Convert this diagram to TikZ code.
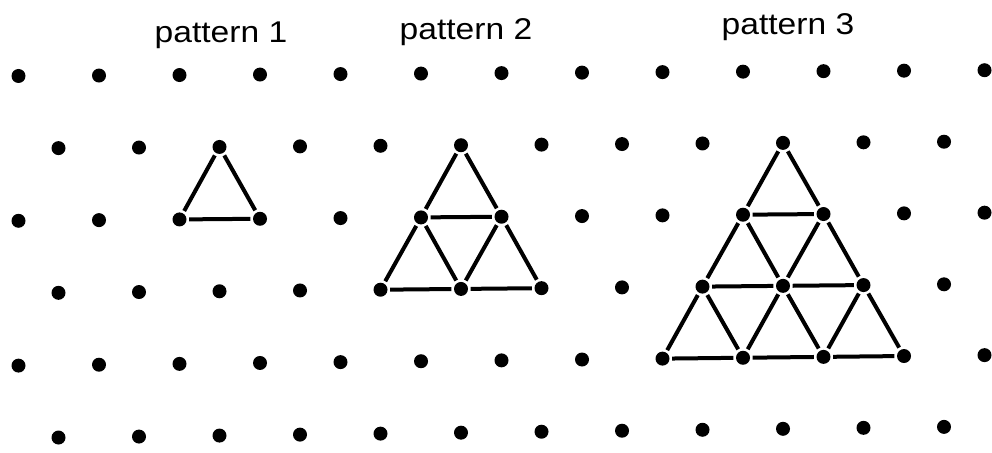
\documentclass[tikz,border=0pt]{standalone}
\usepackage{fontspec}
\setmainfont{Liberation Sans}
\begin{document}
\begin{tikzpicture}[x=1pt,y=-1pt,
  dot/.style={circle,fill=black,inner sep=0pt,minimum size=14pt},
  edge/.style={line width=4pt,black,shorten >=2.5pt,shorten <=2.5pt},
  lbl/.style={anchor=base,inner sep=0pt,font=\fontsize{30}{36}\selectfont\addfontfeature{FakeStretch=1.12}}]
\useasboundingbox[fill=white] (0,0) rectangle (992,452);
% dot grid
\foreach \r in {0,...,5}{
  \pgfmathtruncatemacro\odd{mod(\r,2)}
  \pgfmathtruncatemacro\last{\odd==1 ? 11 : 12}
  \foreach \i in {0,...,\last}{
    \pgfmathsetmacro\x{(\odd==1 ? 58.5 : 18.5)+80.5*\i}
    \pgfmathsetmacro\y{76+72.4*\r-(0.006+0.0012*\r)*(\x-18)}
    \node[dot] (d-\r-\i) at (\x,\y) {};
  }
}
% patterns
\foreach \n/\io in {1/2,2/5,3/9}{
  \pgfmathtruncatemacro\nm{\n-1}
  \foreach \k in {0,...,\nm}{
    \foreach \j in {0,...,\k}{
      \pgfmathtruncatemacro\ra{1+\k}
      \pgfmathtruncatemacro\rb{2+\k}
      \pgfmathtruncatemacro\ia{\io+\j-floor(\k/2)}
      \pgfmathtruncatemacro\ib{\io+\j-floor((\k+1)/2)}
      \pgfmathtruncatemacro\ic{\ib+1}
      \draw[edge] (d-\ra-\ia) -- (d-\rb-\ib);
      \draw[edge] (d-\ra-\ia) -- (d-\rb-\ic);
      \draw[edge] (d-\rb-\ib) -- (d-\rb-\ic);
    }
  }
}
% labels
\node[lbl] (p1) at (221,42) {pattern 1};
\node[lbl] (p2) at (466,40) {pattern 2};
\node[lbl] (p3) at (788,35) {pattern 3};
\end{tikzpicture}
\end{document}
